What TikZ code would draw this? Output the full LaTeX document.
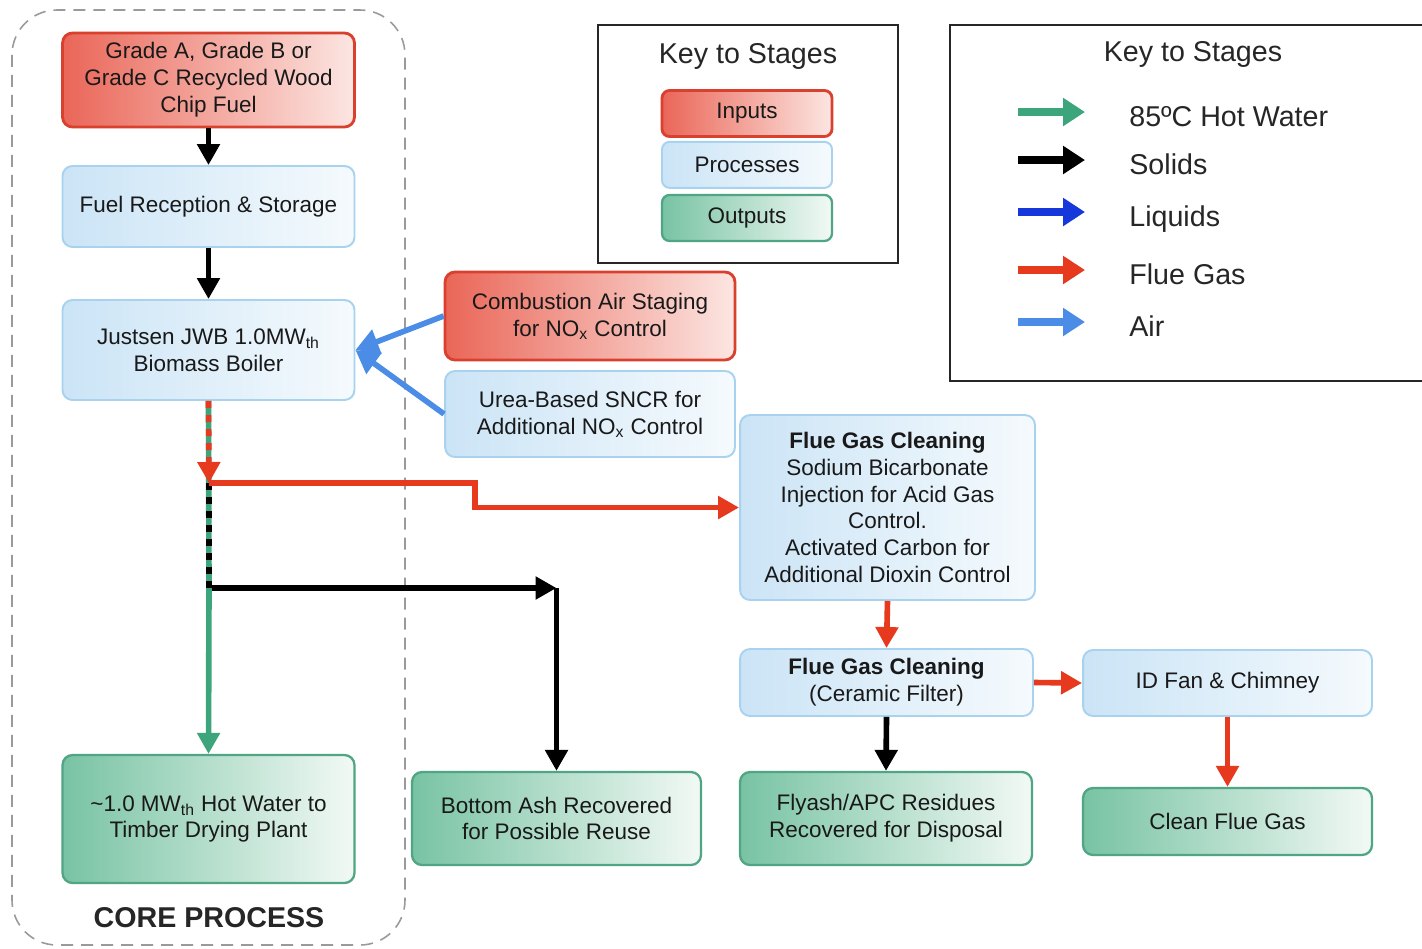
\documentclass[tikz,border=0pt]{standalone}
\usepackage{fontspec}
\setmainfont{Liberation Sans}
\usepackage{xcolor}
\usetikzlibrary{arrows.meta,positioning}

\definecolor{inred}{HTML}{EA6658}
\definecolor{inredlt}{HTML}{FCE6E2}
\definecolor{inedge}{HTML}{D9402E}
\definecolor{procblue}{HTML}{CBE4F6}
\definecolor{procbluelt}{HTML}{F5FAFD}
\definecolor{procedge}{HTML}{A8D2EE}
\definecolor{outgreen}{HTML}{78C3A3}
\definecolor{outgreenlt}{HTML}{F2F9F5}
\definecolor{outedge}{HTML}{4FA584}
\definecolor{hotwater}{HTML}{3DA57B}
\definecolor{liquid}{HTML}{1637D9}
\definecolor{fluegas}{HTML}{E6391E}
\definecolor{airblue}{HTML}{4A8CE6}
\definecolor{coregray}{HTML}{9A9A9A}

\begin{document}
\begin{tikzpicture}[
  x=0.02cm, y=-0.02cm,
  box/.style={rounded corners=0.2cm, align=center, inner sep=2pt, text=black!90, font=\fontsize{12.8}{15.3}\selectfont, minimum width=5.84cm},
  inbox/.style={box, draw=inedge, line width=1.6pt, left color=inred, right color=inredlt},
  procbox/.style={box, draw=procedge, line width=1.1pt, left color=procblue, right color=procbluelt},
  outbox/.style={box, draw=outedge, line width=1.3pt, left color=outgreen, right color=outgreenlt},
  keyitem/.style={minimum width=3.4cm, minimum height=0.92cm, rounded corners=0.15cm},
  keybox/.style={draw=black!85, line width=1.4pt},
  keytitle/.style={font=\fontsize{16.3}{19}\selectfont, text=black!85},
  keylabel/.style={font=\fontsize{16.3}{19}\selectfont, text=black!85, anchor=base west, inner sep=0pt},
  arrow/.style={line width=3.2pt, -{Triangle[length=0.42cm, width=0.44cm]}},
  flow/.style={line width=3.2pt},
  legarrow/.style={line width=4pt, -{Triangle[length=0.44cm, width=0.54cm]}}
]
\useasboundingbox[fill=white] (0,0) rectangle (1422,948);

% core process frame
\draw[coregray, line width=0.9pt, dash pattern=on 0.24cm off 0.16cm, rounded corners=0.9cm] (12,10) rectangle (405,945);
\node[font=\bfseries\fontsize{16.3}{19}\selectfont, text=black!85] (corelbl) at (209,918) {CORE PROCESS};

% main column
\node[inbox, minimum height=1.88cm] (fuelin) at (208.5,80) {Grade A, Grade B or\\Grade C Recycled Wood\\Chip Fuel};
\node[procbox, minimum height=1.62cm] (recv) at (208.5,206.5) {Fuel Reception \& Storage};
\node[procbox, minimum height=2.0cm] (boiler) at (208.5,350) {Justsen JWB 1.0MW\textsubscript{th}\\Biomass Boiler};
\node[outbox, minimum height=2.56cm] (hotout) at (208.5,819) {\textasciitilde1.0 MW\textsubscript{th} Hot Water to\\Timber Drying Plant};

% NOx control
\node[inbox, minimum width=5.8cm, minimum height=1.76cm] (airstage) at (590,316) {Combustion Air Staging\\for NO\textsubscript{x} Control};
\node[procbox, minimum width=5.8cm, minimum height=1.72cm] (sncr) at (590,414) {Urea-Based SNCR for\\Additional NO\textsubscript{x} Control};

% flue gas train
\node[procbox, minimum width=5.9cm, minimum height=3.7cm] (fgc1) at (887.5,507.5) {\textbf{Flue Gas Cleaning}\\Sodium Bicarbonate\\Injection for Acid Gas\\Control.\\Activated Carbon for\\Additional Dioxin Control};
\node[procbox, minimum width=5.86cm, minimum height=1.34cm] (fgc2) at (886.5,682.5) {\textbf{Flue Gas Cleaning}\\(Ceramic Filter)};
\node[procbox, minimum width=5.78cm, minimum height=1.32cm] (idfan) at (1227.5,683) {ID Fan \& Chimney};

% outputs
\node[outbox, minimum width=5.78cm, minimum height=1.86cm] (ash) at (556.5,818.5) {Bottom Ash Recovered\\for Possible Reuse};
\node[outbox, minimum width=5.84cm, minimum height=1.86cm] (flyash) at (886,818.5) {Flyash/APC Residues\\Recovered for Disposal};
\node[outbox, minimum width=5.78cm, minimum height=1.34cm] (clean) at (1227.5,821.5) {Clean Flue Gas};

% key to stages (boxes)
\node[keybox, minimum width=6cm, minimum height=4.76cm] (key1) at (748,144) {};
\node[keytitle] (key1title) at (748,56) {Key to Stages};
\node[inbox, keyitem] (kin) at (747,113.5) {Inputs};
\node[procbox, keyitem, below=0.06cm of kin] (kproc) {Processes};
\node[outbox, keyitem, below=0.1cm of kproc] (kout) {Outputs};

% key to stages (flows)
\node[keybox, minimum width=9.64cm, minimum height=7.12cm] (key2) at (1191,203) {};
\node[keytitle] (key2title) at (1193,54) {Key to Stages};
\foreach \col/\txt/\ypos [count=\i] in {hotwater/85ºC Hot Water/112, black/Solids/160, liquid/Liquids/212, fluegas/Flue Gas/270, airblue/Air/322} {
  \coordinate (legtail\i) at (1018,\ypos);
  \node[keylabel] (leglbl\i) at (1129,\ypos+14) {\txt};
  \draw[legarrow, draw=\col] (legtail\i) -- ++(67,0);
}

% connectors
\draw[arrow] (fuelin.south) -- (recv.north);
\draw[arrow] (recv.south) -- (boiler.north);
\draw[arrow, airblue, -{Triangle[length=0.46cm, width=0.5cm]}] (airstage.west) -- (boiler.east);
\draw[arrow, airblue, -{Triangle[length=0.46cm, width=0.5cm]}] (sncr.west) -- (boiler.east);

\coordinate (gassplit) at (209,483);
\coordinate (solidsplit) at (209,588);
\coordinate (ashturn) at (ash.north |- solidsplit);
\draw[flow, hotwater] (boiler.south) -- (solidsplit);
\draw[arrow, fluegas, dash pattern=on 4pt off 4pt] (boiler.south) -- (gassplit);
\draw[flow, black, dash pattern=on 4pt off 4pt] (gassplit) -- (solidsplit);
\draw[arrow, fluegas] (gassplit) -- ++(266,0) |- (fgc1.west);
\draw[arrow] (solidsplit) -- (ashturn);
\draw[arrow] (ashturn) -- (ash.north);
\draw[arrow, hotwater] (solidsplit) -- (hotout.north);

\draw[arrow, fluegas] (fgc1.south) -- (fgc2.north);
\draw[arrow, fluegas] (fgc2.east) -- (idfan.west);
\draw[arrow] (fgc2.south) -- (flyash.north);
\draw[arrow, fluegas] (idfan.south) -- (clean.north);
\end{tikzpicture}
\end{document}
